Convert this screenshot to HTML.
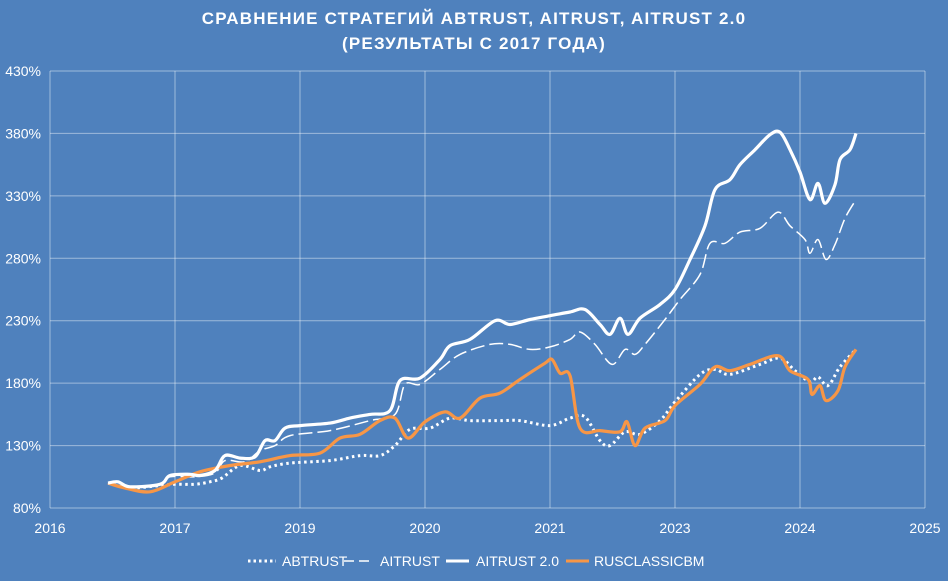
<!DOCTYPE html>
<html><head><meta charset="utf-8"><style>
body{margin:0;background:#4f81bd;}
svg{display:block;font-family:"Liberation Sans","DejaVu Sans",sans-serif;}
</style></head><body>
<svg id="chart" width="948" height="581" viewBox="0 0 948 581">
<rect width="948" height="581" fill="#4f81bd"/>
<text x="474" y="24" text-anchor="middle" fill="#fff" font-size="17" font-weight="bold" letter-spacing="1.2">СРАВНЕНИЕ СТРАТЕГИЙ ABTRUST, AITRUST, AITRUST 2.0</text>
<text x="474" y="49" text-anchor="middle" fill="#fff" font-size="17" font-weight="bold" letter-spacing="1.2">(РЕЗУЛЬТАТЫ С 2017 ГОДА)</text>
<g id="grid"></g><g id="axes"></g><g id="series"></g>
<g font-size="14" fill="#fff">
<line x1="248" y1="561" x2="276" y2="561" stroke="#fff" stroke-width="3" stroke-dasharray="2.5 3"/>
<text x="282" y="566">ABTRUST</text>
<line x1="344" y1="561" x2="373" y2="561" stroke="#fff" stroke-width="1.5" stroke-dasharray="10 5"/>
<text x="380" y="566">AITRUST</text>
<line x1="446" y1="561" x2="469" y2="561" stroke="#fff" stroke-width="3"/>
<text x="476" y="566">AITRUST 2.0</text>
<line x1="566" y1="561" x2="589" y2="561" stroke="#f79646" stroke-width="3"/>
<text x="594" y="566">RUSCLASSICBM</text>
</g>
</svg>
<script>
const xTickLabels=["2016","2017","2019","2020","2021","2023","2024","2025"];
const yTicks=[80,130,180,230,280,330,380,430];
const ai2T=[58,68,80,110,120,140,150,165,175,190,205,215,225,235,250,280,300,320,340,350,370,390,400,420,445,460,480,500,520,535,550,560,570,578,590,610,625,640,655,665,680,690,705,720,730,740,750,760,768,775,785,790,800,806];
const ai2V=[100,101,97,99,106,107,106,110,122,120,121,134,134,144,146,148,152,155,158,182,184,199,210,215,230,227,231,234,237,239,227,219,232,219,232,243,255,279,306,335,343,355,367,379,381,367,349,327,340,324,339,359,367,380];
const aiT=[58,80,110,120,145,165,175,195,210,225,240,280,320,345,355,370,390,410,440,460,480,500,520,530,545,562,575,585,595,615,630,650,660,675,690,710,728,740,755,760,768,776,785,795,806];
const aiV=[100,97,99,105,105,108,118,117,126,130,138,142,150,155,179,179,191,203,211,211,207,209,215,221,211,195,207,203,211,231,247,267,292,292,301,304,317,306,295,284,295,279,291,312,327];
const abT=[58,80,110,125,145,160,172,190,210,220,240,280,310,330,345,360,380,400,420,450,470,500,520,535,550,560,575,590,610,625,650,665,680,710,730,745,760,768,778,790,806];
const abV=[100,96,98,99,99,101,104,114,110,113,116,118,122,122,130,143,144,152,150,150,150,146,152,153,134,130,141,139,150,165,187,191,187,195,200,190,181,185,178,193,207];
const rusT=[58,75,100,125,150,180,210,240,270,290,310,330,345,358,375,395,410,430,450,470,495,502,510,520,530,550,570,577,585,595,615,625,650,665,680,700,728,740,758,762,770,776,788,795,806];
const rusV=[100,96,93,101,109,114,117,122,124,136,139,150,152,136,149,157,152,168,172,183,196,199,188,186,144,142,141,149,130,144,150,162,179,193,190,195,202,190,183,171,178,166,174,193,207];

const NS="http://www.w3.org/2000/svg";
const X0=50,X1=925,Y0=508,Y1=71;
function xScale(t){return X0+t*(X1-X0)/875;}
function yScale(v){return Y0-(v-80)*(Y0-Y1)/350;}
function mk(tag,attrs,parent){const e=document.createElementNS(NS,tag);for(const k in attrs)e.setAttribute(k,attrs[k]);parent.appendChild(e);return e;}
const grid=document.getElementById('grid'),axes=document.getElementById('axes'),series=document.getElementById('series');
yTicks.forEach(v=>{
  const y=yScale(v);
  const l=mk('line',{x1:X0,x2:X1,y1:y,y2:y,stroke:'rgba(255,255,255,0.45)','stroke-width':1},grid);
  
  
  const t=mk('text',{x:41,y:y+5,'text-anchor':'end',fill:'#fff','font-size':14},axes);
  t.textContent=v+'%';
  
  
});
xTickLabels.forEach((lab,i)=>{
  const x=xScale(i*125);
  const l=mk('line',{x1:x,x2:x,y1:Y1,y2:Y0,stroke:'rgba(255,255,255,0.45)','stroke-width':1},grid);
  
  
  const t=mk('text',{x:x,y:533,'text-anchor':'middle',fill:'#fff','font-size':14},axes);
  t.textContent=lab;
  
  
});
function smooth(ts,vs){
  const p=ts.map((t,i)=>[xScale(t),yScale(vs[i])]);
  let d='M'+p[0][0]+','+p[0][1];
  for(let i=0;i<p.length-1;i++){
    const a=p[i-1]||p[i],b=p[i],c=p[i+1],e=p[i+2]||c;
    const c1=[b[0]+(c[0]-a[0])/6,b[1]+(c[1]-a[1])/6],c2=[c[0]-(e[0]-b[0])/6,c[1]-(e[1]-b[1])/6];
    d+=' C'+c1[0].toFixed(1)+','+c1[1].toFixed(1)+' '+c2[0].toFixed(1)+','+c2[1].toFixed(1)+' '+c[0].toFixed(1)+','+c[1].toFixed(1);
  }
  return d;
}
const ab=mk('path',{d:smooth(abT,abV),fill:'none',stroke:'#fff','stroke-width':3,'stroke-dasharray':'2.5 3.5'},series);


const ai=mk('path',{d:smooth(aiT,aiV),fill:'none',stroke:'#fff','stroke-width':1.5,'stroke-dasharray':'14 5'},series);


const ru=mk('path',{d:smooth(rusT,rusV),fill:'none',stroke:'#f79646','stroke-width':3.2,'stroke-linejoin':'round'},series);


const a2=mk('path',{d:smooth(ai2T,ai2V),fill:'none',stroke:'#fff','stroke-width':3.2,'stroke-linejoin':'round'},series);


</script>
</body></html>
